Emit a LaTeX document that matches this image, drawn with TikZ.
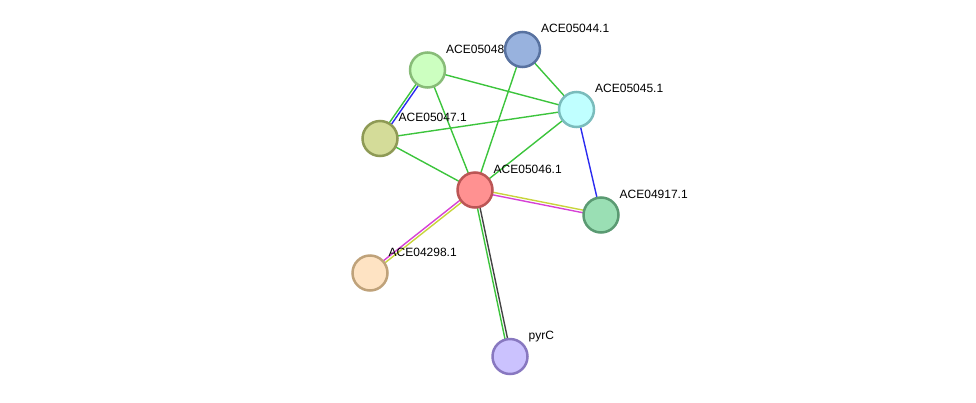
\documentclass[tikz,border=0pt]{standalone}
\usepackage{fontspec}
\setmainfont{Liberation Sans}
\usetikzlibrary{calc}
\definecolor{egreen}{HTML}{3CC43C}
\definecolor{eblue}{HTML}{2B2BF0}
\definecolor{eyellow}{HTML}{C8D43C}
\definecolor{emag}{HTML}{D642D6}
\definecolor{egray}{HTML}{444444}
\tikzset{
  x=1pt, y=-1pt,
  prot/.style={circle, minimum size=35pt, inner sep=0pt, line width=2.5pt},
  lbl/.style={anchor=base west, inner sep=0pt, font=\fontsize{12}{14}\selectfont, text=black},
  edge/.style={line width=1.4pt},
}
\newcommand{\dbledge}[4]{%
  \draw[edge,#3] ($(#1)!1.3pt!90:(#2)$) -- ($(#2)!1.3pt!-90:(#1)$);
  \draw[edge,#4] ($(#1)!1.3pt!-90:(#2)$) -- ($(#2)!1.3pt!90:(#1)$);
}
\begin{document}
\begin{tikzpicture}
\useasboundingbox (0,0) rectangle (976,402);
% centre coordinates
\coordinate (c48) at (427.5,70);
\coordinate (c44) at (522.5,49.5);
\coordinate (c45) at (576.5,109.5);
\coordinate (c47) at (380,138.5);
\coordinate (c46) at (475,190);
\coordinate (c17) at (601,215);
\coordinate (c98) at (370,273);
\coordinate (cpy) at (510,356.5);
% edges
\draw[edge,egreen] (c48) -- (c45);
\draw[edge,egreen] (c48) -- (c46);
\draw[edge,egreen] (c44) -- (c46);
\draw[edge,egreen] (c44) -- (c45);
\draw[edge,egreen] (c47) -- (c45);
\draw[edge,egreen] (c47) -- (c46);
\draw[edge,egreen] (c45) -- (c46);
\draw[edge,eblue] (c45) -- (c17);
\dbledge{c48}{c47}{eblue}{egreen}
\dbledge{c46}{c17}{eyellow}{emag}
\dbledge{c46}{c98}{eyellow}{emag}
\dbledge{c46}{cpy}{egray}{egreen}
% labels
\node[lbl] (l48) at ($(c48)+(18.5,-17)$) {ACE05048};
\node[lbl] (l44) at ($(c44)+(18.5,-17)$) {ACE05044.1};
\node[lbl] (l45) at ($(c45)+(18.5,-17)$) {ACE05045.1};
\node[lbl] (l47) at ($(c47)+(18.5,-17)$) {ACE05047.1};
\node[lbl] (l46) at ($(c46)+(18.5,-17)$) {ACE05046.1};
\node[lbl] (l17) at ($(c17)+(18.5,-17)$) {ACE04917.1};
\node[lbl] (l98) at ($(c98)+(18.5,-17)$) {ACE04298.1};
\node[lbl] (lpy) at ($(cpy)+(18.5,-17)$) {pyrC};
% nodes
\node[prot, fill={rgb,255:red,204;green,255;blue,192}, draw={rgb,255:red,136;green,188;blue,120}] (n48) at (c48) {};
\node[prot, fill={rgb,255:red,152;green,178;blue,222}, draw={rgb,255:red,88;green,114;blue,160}] (n44) at (c44) {};
\node[prot, fill={rgb,255:red,192;green,255;blue,255}, draw={rgb,255:red,122;green,188;blue,188}] (n45) at (c45) {};
\node[prot, fill={rgb,255:red,212;green,220;blue,153}, draw={rgb,255:red,142;green,154;blue,85}] (n47) at (c47) {};
\node[prot, fill={rgb,255:red,255;green,145;blue,145}, draw={rgb,255:red,187;green,85;blue,85}] (n46) at (c46) {};
\node[prot, fill={rgb,255:red,154;green,223;blue,180}, draw={rgb,255:red,90;green,154;blue,114}] (n17) at (c17) {};
\node[prot, fill={rgb,255:red,254;green,227;blue,195}, draw={rgb,255:red,191;green,162;blue,122}] (n98) at (c98) {};
\node[prot, fill={rgb,255:red,203;green,194;blue,254}, draw={rgb,255:red,136;green,120;blue,192}] (npy) at (cpy) {};
\end{tikzpicture}
\end{document}
